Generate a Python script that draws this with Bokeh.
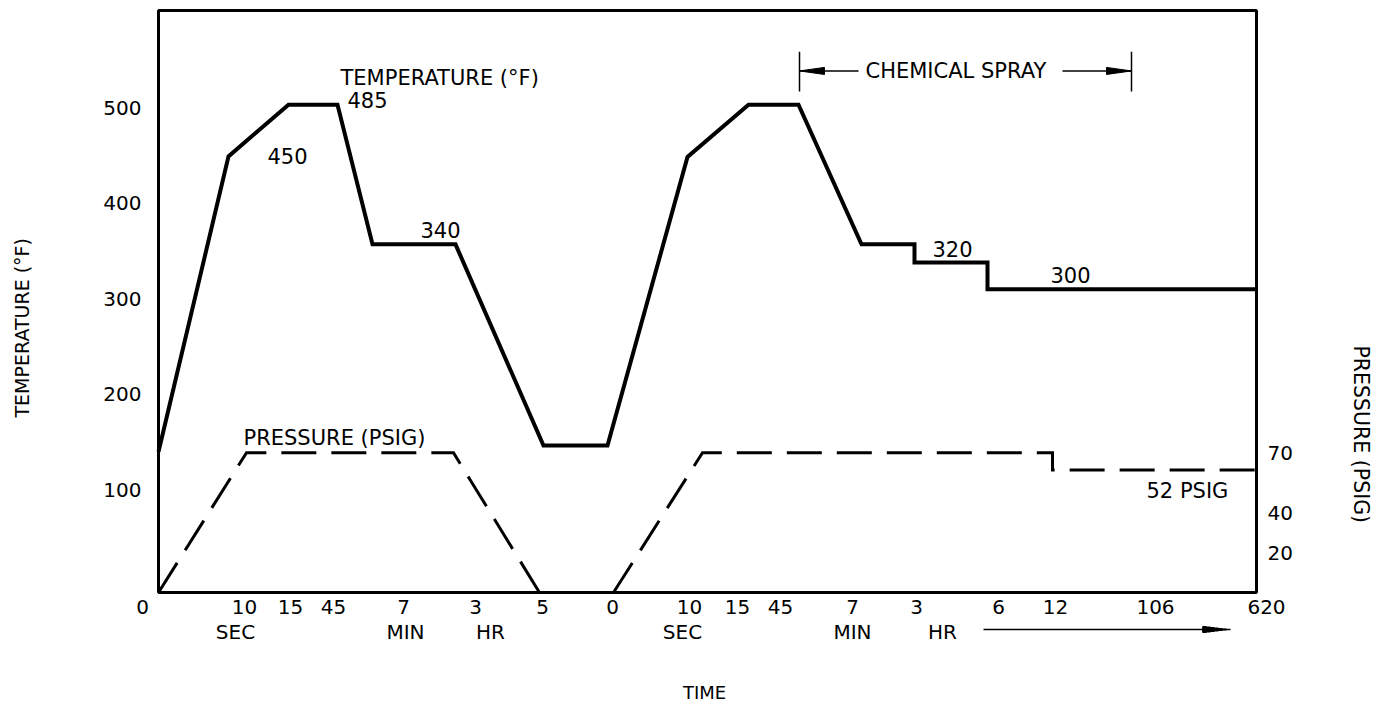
from bokeh.plotting import figure
from bokeh.models import Range1d, LinearAxis, FixedTicker, ColumnDataSource, Title
from bokeh.core.properties import value
from bokeh.embed import file_html
from bokeh.resources import INLINE

FONT = "DejaVu Sans"

# ---------------- data (schematic time axis units) ----------------
temp_x = [0, 70, 130, 179, 214, 297, 385, 449, 529, 590, 640, 703, 756, 756, 829, 829, 1098]
temp_y = [140, 449, 503, 503, 357, 357, 146.5, 146.5, 448.5, 503, 503, 357, 357, 338, 338, 310, 310]

press1_x = [0, 88, 295, 381]
press1_y = [0, 70, 70, 0]
press2_x = [455, 544, 894, 894, 1098]
press2_y = [0, 70, 70, 61.4, 61.4]

time_ticks = [-16, 86, 132, 175, 245, 317, 384, 454, 531, 579, 622, 694, 758, 840, 897, 997, 1108]
time_labels = ["0", "10", "15", "45", "7", "3", "5", "0", "10", "15", "45", "7", "3", "6", "12", "106", "620"]
unit_ticks = [77, 247, 332, 524, 694, 784]
unit_labels = ["SEC", "MIN", "HR", "SEC", "MIN", "HR"]

temp_ticks = [100, 200, 300, 400, 500]
press_ticks = [20, 40, 70]

time_extent = (0, 1098)
temp_extent = (-7.3, 601.6)

temp_notes_x = [182, 189, 109, 262, 774, 892]
temp_notes_y = [530.6, 507.5, 449.1, 371.8, 352.5, 324.9]
temp_notes = ["TEMPERATURE (°F)", "485", "450", "340", "320", "300"]

press_notes_x = [85, 988]
press_notes_y = [77.5, 51]
press_notes = ["PRESSURE (PSIG)", "52 PSIG"]

spray_text = "CHEMICAL SPRAY"
spray_text_x = 707
spray_level = 538.4
spray_span = (641, 973)
spray_shafts = [(700, 641), (904, 973)]
spray_ext = (517, 558.4)

time_arrow = (825, 1072)   # start, tip of the arrow under the later time labels

# ---------------- figure ----------------
p = figure(width=1387, height=705,
           x_range=Range1d(-17, 1109), y_range=Range1d(-11.4, 605.8),
           output_backend="svg", toolbar_location=None,
           min_border_left=141, min_border_right=120,
           min_border_top=6, min_border_bottom=108)
p.extra_y_ranges = {"pressure": Range1d(-2, 293.5)}
p.xgrid.visible = False
p.ygrid.visible = False
p.outline_line_color = None
p.background_fill_color = "white"
p.border_fill_color = "white"


def style_axis(ax):
    ax.axis_line_color = None
    ax.major_tick_line_color = None
    ax.minor_tick_line_color = None
    ax.major_tick_out = 0
    ax.major_tick_in = 0
    ax.minor_tick_out = 0
    ax.minor_tick_in = 0
    ax.major_label_text_font = FONT
    ax.major_label_text_font_size = "20px"
    ax.major_label_text_color = "black"
    ax.axis_label_text_font = FONT
    ax.axis_label_text_font_size = "18px"
    ax.axis_label_text_font_style = "normal"
    ax.axis_label_text_color = "black"
    ax.major_label_standoff = 0


def spacer(width, anchor, **kw):
    """An axis with one invisible tick and no label text: it only reserves room in a side panel."""
    ax = LinearAxis(ticker=FixedTicker(ticks=[anchor]), **kw)
    style_axis(ax)
    ax.major_tick_out = width
    ax.major_label_overrides = {anchor: ""}
    ax.major_label_text_font_size = "1px"
    return ax


def rule(lo, hi, width):
    """An empty axis whose line is drawn only between lo and hi."""
    ax = LinearAxis(ticker=FixedTicker(ticks=[]), bounds=(lo, hi))
    style_axis(ax)
    ax.axis_line_color = "black"
    ax.axis_line_width = width
    ax.axis_line_cap = "butt"
    return ax


# left axis (temperature)
yl = p.yaxis[0]
style_axis(yl)
yl.ticker = FixedTicker(ticks=temp_ticks)
p.add_layout(spacer(63, 300), "left")
p.add_layout(Title(text="TEMPERATURE (°F)", align="left", offset=179, standoff=10,
                   text_font=FONT, text_font_size="19px", text_font_style="normal",
                   text_color="black"), "left")

# right axis (pressure)
yr = LinearAxis(y_range_name="pressure", ticker=FixedTicker(ticks=press_ticks))
style_axis(yr)
p.add_layout(yr, "right")
p.add_layout(spacer(48, 100, y_range_name="pressure"), "right")
p.add_layout(Title(text="PRESSURE (PSIG)", align="left", offset=339, standoff=10,
                   text_font=FONT, text_font_size="20.5px", text_font_style="normal",
                   text_color="black"), "right")

# bottom axis 1 (time values)
xb = p.xaxis[0]
style_axis(xb)
xb.ticker = FixedTicker(ticks=time_ticks)
xb.major_label_overrides = {t: l for t, l in zip(time_ticks, time_labels)}
xb.major_label_standoff = 3

# room, then the time arrow (shaft + stepped dart head) drawn as bounded axis rules
p.add_layout(spacer(13, 500), "below")
t0, t1 = time_arrow
HEAD_LEN = 28
p.add_layout(rule(t0, t1, 1.5), "below")
for k, thick in enumerate([7, 6, 5, 4, 3, 2]):
    p.add_layout(rule(t1 - HEAD_LEN, t1 - HEAD_LEN + HEAD_LEN * (k + 1) / 7, thick), "below")

# bottom axis 2 (time units)
xb2 = LinearAxis(ticker=FixedTicker(ticks=unit_ticks))
style_axis(xb2)
xb2.major_label_overrides = {t: l for t, l in zip(unit_ticks, unit_labels)}
xb2.major_label_standoff = -10
xb2.axis_label = "TIME"
xb2.axis_label_standoff = 35
p.add_layout(xb2, "below")

# frame box
p.quad(left=[time_extent[0]], right=[time_extent[1]], bottom=[temp_extent[0]], top=[temp_extent[1]],
       fill_color=None, line_color="black", line_width=3)

# temperature curve
p.line(temp_x, temp_y, line_color="black", line_width=4, line_join="miter")

# pressure curves
for px_, py_ in ((press1_x, press1_y), (press2_x, press2_y)):
    p.line(px_, py_, y_range_name="pressure", line_color="black", line_width=3,
           line_dash="35 15", line_join="miter")

# notes
src_t = ColumnDataSource(dict(x=temp_notes_x, y=temp_notes_y, text=temp_notes))
p.text(x="x", y="y", text="text", source=src_t, text_font=value(FONT), text_font_size="21px",
       text_align="left", text_baseline="middle", text_color="black")
src_p = ColumnDataSource(dict(x=press_notes_x, y=press_notes_y, text=press_notes))
p.text(x="x", y="y", text="text", source=src_p, y_range_name="pressure", text_font=value(FONT),
       text_font_size="21px", text_align="left", text_baseline="middle", text_color="black")

# chemical spray dimension
p.text(x=[spray_text_x], y=[spray_level], text=[spray_text], text_font=value(FONT),
       text_font_size="21px", text_align="left", text_baseline="middle", text_color="black")
p.segment(x0=list(spray_span), x1=list(spray_span), y0=[spray_ext[0]] * 2, y1=[spray_ext[1]] * 2,
          line_color="black", line_width=1.5)
p.segment(x0=[s[0] for s in spray_shafts], x1=[s[1] for s in spray_shafts],
          y0=[spray_level] * 2, y1=[spray_level] * 2, line_color="black", line_width=1.5)

HEAD_L = 25
HEAD_HW = 3.7
hx, hy = [], []
for start, tip in spray_shafts:
    d = 1 if tip > start else -1
    hx.append([tip, tip - d * HEAD_L, tip - d * HEAD_L])
    hy.append([spray_level, spray_level + HEAD_HW, spray_level - HEAD_HW])
p.patches(hx, hy, fill_color="black", line_color="black", line_width=1)

open("out.html", "w").write(file_html(p, INLINE))
